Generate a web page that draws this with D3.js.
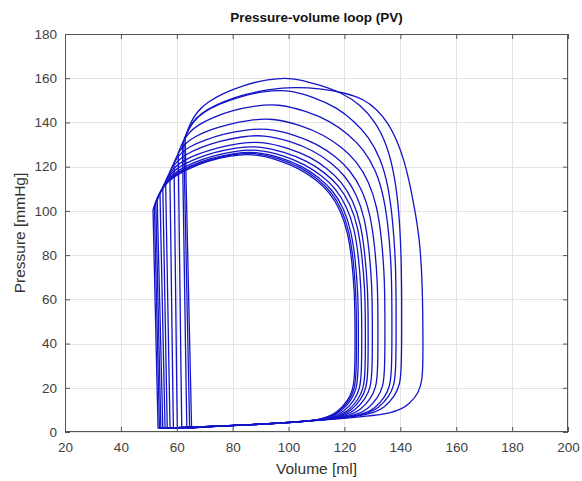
<!DOCTYPE html>
<html><head><meta charset="utf-8">
<script src="https://cdn.jsdelivr.net/npm/d3@7"></script>
<style>
body{margin:0;background:#fff;}
text{font-family:"Liberation Sans",Arial,Helvetica,sans-serif;}
</style>
</head><body>
<svg id="chart" width="582" height="481"></svg>
<script>
// Pressure-volume loops, each point is [Volume (ml), Pressure (mmHg)]
const loop01 = [[65.3,1.7],[70.3,2.4],[80,2.85],[100,4.2],[129.5,7.25],[134.5,11.25],[138,16.25],[139.8,21.25],[140.5,28.25],[140.5,64],[140.3,80],[139.6,99],[138,116],[135.2,130],[131,140.5],[125.6,148],[119.5,153.2],[111,157],[101,160.5],[92.6,159.5],[83.9,156.9],[76.3,153],[71,149.2],[67.2,144.9],[64.5,138.9],[63,133],[63.1,127],[65.2,7]];
const loop02 = [[64.6,1.7],[69.6,2.35],[80,2.85],[100,4.2],[120,6.1],[138.7,8.4],[143.5,13],[146.5,17.5],[147.8,23.5],[148.1,29.6],[148.1,50],[147.8,70],[146.9,87],[145.3,100],[142.5,118],[139.5,130],[135.6,140],[131.5,146],[127,150.5],[120,153.5],[111,155.4],[102,156],[93.3,155],[84.2,152.8],[76.3,149.3],[70.8,145.9],[66.8,142.1],[64.1,136.9],[62.5,131.6],[62.6,125.6],[64.5,7]];
const loop03 = [[63.6,1.7],[68.6,2.3],[80,2.85],[100,4.2],[127.5,7.1],[132.5,11.1],[136,16.1],[137.8,21.1],[138.5,28.1],[138.5,61.8],[138.3,77.3],[137.3,95.8],[135.7,111.2],[133,123.6],[128.6,133.6],[123.5,140.6],[117.2,146.8],[108.9,151.6],[99,155],[90.9,154],[82.4,151.7],[75,148.2],[69.8,144.8],[66.1,140.9],[63.5,135.5],[62,130.2],[62.1,124.2],[63.5,7]];
const loop04 = [[61.8,1.7],[66.8,2.25],[80,2.85],[100,4.2],[126,6.8],[131,10.8],[134.5,15.8],[136.3,20.8],[137,27.8],[137,59.2],[136.8,74],[135.8,91.8],[134.1,106.6],[131.3,118.4],[126.8,128],[121.4,134.7],[114.9,140.6],[106.3,145.2],[96,148.5],[88.2,147.5],[80,145.5],[72.9,142.3],[68,139.2],[64.4,135.7],[61.9,130.8],[60.5,126],[60.6,120],[61.7,7]];
const loop05 = [[60.2,1.7],[65.2,2.2],[75,2.6],[95,3.8],[123.5,6.5],[128.5,10.5],[132,15.5],[133.8,20.5],[134.5,27.5],[134.5,56.6],[134.3,70.8],[133.3,87.7],[131.7,101.9],[128.8,113.2],[124.4,122.4],[119.1,128.8],[112.6,134.4],[104.1,138.9],[94,142],[86.3,141.1],[78.3,139.2],[71.3,136.4],[66.4,133.6],[62.9,130.4],[60.4,126.1],[59,121.7],[59.1,115.7],[60.1,7]];
const loop06 = [[58.8,1.7],[63.8,2.15],[75,2.6],[95,3.8],[121,6.2],[126,10.2],[129.5,15.2],[131.3,20.2],[132,27.2],[132,54.8],[131.8,68.5],[130.8,84.9],[129.2,98.6],[126.4,109.6],[122,118.5],[116.8,124.7],[110.4,130.2],[102,134.5],[92,137.5],[84.4,136.6],[76.5,134.8],[69.6,131.9],[64.7,129.2],[61.3,126.1],[58.9,121.8],[57.5,117.5],[57.6,111.5],[58.7,7]];
const loop07 = [[57.6,1.7],[62.6,2.1],[75,2.6],[95,3.8],[119,6.0],[124,10],[127.5,15],[129.3,20],[130,27],[130,53.6],[129.8,67],[128.8,83.1],[127.3,96.5],[124.5,107.2],[120.3,115.9],[115.2,121.9],[108.9,127.3],[100.8,131.5],[91,134.5],[83.3,133.6],[75.3,131.6],[68.3,128.6],[63.4,125.7],[59.9,122.4],[57.4,117.8],[56,113.2],[56.1,107.2],[57.5,7]];
const loop08 = [[56.6,1.7],[61.6,2.05],[75,2.6],[95,3.8],[117.5,5.8],[122.5,9.8],[126,14.8],[127.8,19.8],[128.5,26.8],[128.5,52.4],[128.3,65.5],[127.3,81.2],[125.8,94.3],[123.1,104.8],[118.9,113.3],[113.9,119.2],[107.7,124.5],[99.6,128.6],[90,131.5],[82.3,130.6],[74.3,128.6],[67.3,125.6],[62.4,122.8],[58.9,119.5],[56.4,114.9],[55,110.4],[55.1,104.4],[56.5,7]];
const loop09 = [[55.8,1.7],[60.8,2.0],[75,2.6],[95,3.8],[116.5,5.7],[121.5,9.7],[125,14.7],[126.8,19.7],[127.5,26.7],[127.5,51.6],[127.3,64.5],[126.3,80],[124.8,92.9],[122.1,103.2],[117.9,111.6],[112.9,117.4],[106.7,122.6],[98.6,126.6],[89,129.5],[81.3,128.6],[73.3,126.5],[66.3,123.4],[61.4,120.4],[57.9,117],[55.4,112.3],[54,107.6],[54.1,101.6],[55.7,7]];
const loop10 = [[55,1.7],[60,2.0],[75,2.6],[95,3.8],[115.2,5.55],[120.2,9.55],[123.7,14.55],[125.5,19.55],[126.2,26.55],[126.2,51],[126,63.8],[125.1,79.1],[123.6,91.8],[120.9,102],[116.8,110.3],[111.9,116],[105.8,121.1],[97.9,125.2],[88.5,128],[80.7,127],[72.5,124.9],[65.4,121.6],[60.5,118.4],[56.9,114.7],[54.4,109.7],[53,104.7],[53.1,98.7],[54.9,7]];
const loop11 = [[54.3,1.7],[59.3,1.95],[75,2.6],[95,3.8],[114,5.4],[119,9.4],[122.5,14.4],[124.3,19.4],[125,26.4],[125,50.6],[124.8,63.3],[123.9,78.4],[122.4,91.1],[119.8,101.2],[115.8,109.4],[110.9,115.1],[105,120.2],[97.3,124.2],[88,127],[80.2,126],[72,123.8],[64.9,120.5],[60,117.2],[56.4,113.5],[53.9,108.4],[52.5,103.3],[52.6,97.3],[54.2,7]];
const loop12 = [[53.8,1.7],[58.8,1.95],[75,2.6],[95,3.8],[113.3,5.35],[118.3,9.35],[121.8,14.35],[123.6,19.35],[124.3,26.35],[124.3,50.4],[124.1,63],[123.2,78.1],[121.7,90.7],[119.1,100.8],[115.1,109],[110.3,114.7],[104.4,119.7],[96.7,123.7],[87.5,126.5],[79.7,125.5],[71.5,123.2],[64.4,119.7],[59.5,116.4],[55.9,112.5],[53.4,107.2],[52,101.9],[52.1,95.9],[53.7,7]];
const loop13 = [[53.3,1.7],[58.3,1.9],[75,2.6],[95,3.8],[112.8,5.3],[117.8,9.3],[121.3,14.3],[123.1,19.3],[123.8,26.3],[123.8,50.2],[123.6,62.8],[122.7,77.8],[121.2,90.4],[118.6,100.4],[114.6,108.6],[109.8,114.2],[103.9,119.2],[96.2,123.2],[87,126],[79.2,125],[71,122.6],[63.9,119],[59,115.5],[55.4,111.5],[52.9,106],[51.5,100.5],[51.6,94.5],[53.2,7]];
const loops = [loop01,loop02,loop03,loop04,loop05,loop06,loop07,loop08,loop09,loop10,loop11,loop12,loop13];

const volumeTicks = [20,40,60,80,100,120,140,160,180,200];
const pressureTicks = [0,20,40,60,80,100,120,140,160,180];
const titleText = "Pressure-volume loop (PV)";
const xLabelText = "Volume [ml]";
const yLabelText = "Pressure [mmHg]";

const L = 65, R = 568, T = 34, B = 432;
const svg = d3.select("#chart");
svg.append("rect").attr("width",582).attr("height",481).attr("fill","#fff");

const x = d3.scaleLinear().domain([20,200]).range([L,R]);
const y = d3.scaleLinear().domain([0,180]).range([B,T]);

// grid
const grid = svg.append("g").attr("stroke","#e3e3e3").attr("stroke-width",1);
grid.selectAll("line.v").data(volumeTicks).join("line")
  .attr("x1",d=>Math.round(x(d))+0.5).attr("x2",d=>Math.round(x(d))+0.5)
  .attr("y1",T).attr("y2",B);
grid.selectAll("line.h").data(pressureTicks).join("line")
  .attr("y1",d=>Math.round(y(d))+0.5).attr("y2",d=>Math.round(y(d))+0.5)
  .attr("x1",L).attr("x2",R);

// loops: B-spline through the read points, with the two sharp corners
// (start of filling, end of ejection) repeated so the spline keeps them sharp
function withCorners(loop){
  const tl = loop.length - 3; // end-of-ejection point
  return [loop[0], loop[0]].concat(loop.slice(0, tl), [loop[tl], loop[tl]], loop.slice(tl));
}
const line = d3.line().x(d=>x(d[0])).y(d=>y(d[1])).curve(d3.curveBasisClosed);
svg.append("g").selectAll("path").data(loops).join("path")
  .attr("d",d=>line(withCorners(d))).attr("fill","none").attr("stroke","#1414c8").attr("stroke-width",1.3)
  .attr("stroke-linejoin","round");

// axes
const axisColor = "#555";
function styleAxis(g){
  g.select(".domain").remove();
  g.selectAll(".tick line").attr("stroke",axisColor);
  g.selectAll(".tick text").attr("fill","#404040").style("font-size","13.5px")
   .style("font-family","'Liberation Sans',Arial,sans-serif");
}
svg.append("g").attr("transform",`translate(0,${B})`)
  .call(d3.axisBottom(x).tickValues(volumeTicks).tickSize(-5).tickPadding(10)).call(styleAxis);
svg.append("g").attr("transform",`translate(0,${T})`)
  .call(d3.axisTop(x).tickValues(volumeTicks).tickSize(-5).tickFormat("")).call(styleAxis);
svg.append("g").attr("transform",`translate(${L},0)`)
  .call(d3.axisLeft(y).tickValues(pressureTicks).tickSize(-5).tickPadding(8)).call(styleAxis);
svg.append("g").attr("transform",`translate(${R},0)`)
  .call(d3.axisRight(y).tickValues(pressureTicks).tickSize(-5).tickFormat("")).call(styleAxis);

svg.append("rect").attr("x",L+0.5).attr("y",T+0.5).attr("width",R-L-1).attr("height",B-T-1)
  .attr("fill","none").attr("stroke",axisColor).attr("stroke-width",1);

// labels
svg.append("text").attr("x",(L+R)/2).attr("y",22).attr("text-anchor","middle")
  .style("font-size","13.5px").style("font-weight","bold").attr("fill","#111").text(titleText);
svg.append("text").attr("x",(L+R)/2).attr("y",474).attr("text-anchor","middle")
  .style("font-size","15.5px").attr("fill","#333").text(xLabelText);
svg.append("text").attr("transform",`translate(25,${(T+B)/2}) rotate(-90)`).attr("text-anchor","middle")
  .style("font-size","15.5px").attr("fill","#333").text(yLabelText);
</script>
</body></html>
